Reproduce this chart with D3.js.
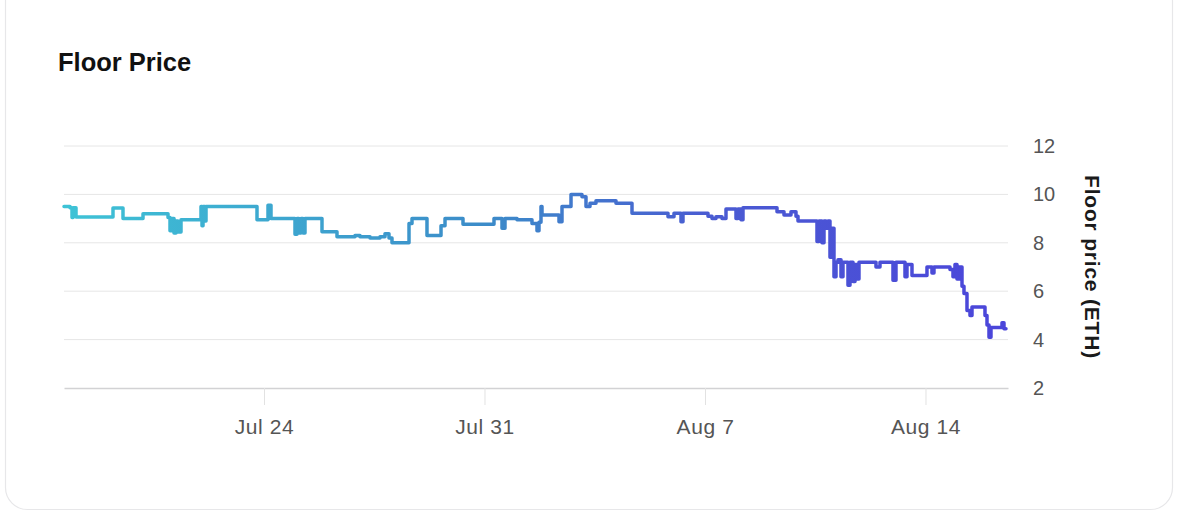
<!DOCTYPE html>
<html>
<head>
<meta charset="utf-8">
<script src="https://cdn.jsdelivr.net/npm/d3@7"></script>
<style>
  html, body { margin: 0; padding: 0; background: #ffffff; }
  svg { display: block; }
  text { font-family: "Liberation Sans", Arial, Helvetica, sans-serif; }
</style>
</head>
<body>
<svg id="chart" width="1186" height="526"></svg>
<script>
// ---- Data ----
const chartTitle = "Floor Price";
const yAxisTitle = "Floor price (ETH)";
const xDomain = ["2022-07-17T15:37", "2022-08-16T14:52"];
const yDomain = [2, 12];
const yTicks = [2, 4, 6, 8, 10, 12];
const xTickDates = ["2022-07-24", "2022-07-31", "2022-08-07", "2022-08-14"];
const xTickLabels = ["Jul 24", "Jul 31", "Aug 7", "Aug 14"];

const times = [
  "2022-07-17T15:37","2022-07-17T20:11","2022-07-17T21:43","2022-07-17T22:29","2022-07-18T00:46",
  "2022-07-19T04:57","2022-07-19T12:34","2022-07-20T03:49","2022-07-20T22:52","2022-07-21T00:23",
  "2022-07-21T01:55","2022-07-21T03:26","2022-07-21T04:57","2022-07-21T06:29","2022-07-21T08:46",
  "2022-07-22T00:00","2022-07-22T00:46","2022-07-22T01:32","2022-07-22T03:03","2022-07-22T03:49",
  "2022-07-23T18:40","2022-07-24T03:03","2022-07-24T05:20","2022-07-24T23:37","2022-07-25T01:08",
  "2022-07-25T02:40","2022-07-25T04:11","2022-07-25T05:43","2022-07-25T07:14","2022-07-25T20:11",
  "2022-07-26T07:37","2022-07-26T21:20","2022-07-27T01:08","2022-07-27T08:46","2022-07-27T16:23",
  "2022-07-27T20:11","2022-07-27T23:14","2022-07-28T01:31","2022-07-28T14:29","2022-07-28T16:46",
  "2022-07-29T04:11","2022-07-29T14:52","2022-07-29T17:55","2022-07-30T07:37","2022-07-31T07:14",
  "2022-07-31T13:20","2022-07-31T15:37","2022-08-01T00:46","2022-08-01T12:11","2022-08-01T16:00",
  "2022-08-01T17:31","2022-08-01T19:03","2022-08-01T19:49","2022-08-02T08:46","2022-08-02T11:03",
  "2022-08-02T17:55","2022-08-03T02:17","2022-08-03T05:20","2022-08-03T08:23","2022-08-03T12:57",
  "2022-08-04T04:11","2022-08-04T16:23","2022-08-05T19:49","2022-08-06T00:23","2022-08-06T05:43",
  "2022-08-06T07:14","2022-08-07T02:17","2022-08-07T05:20","2022-08-07T08:23","2022-08-07T12:57",
  "2022-08-07T16:00","2022-08-07T23:37","2022-08-08T01:08","2022-08-08T03:26","2022-08-08T04:57",
  "2022-08-09T06:52","2022-08-09T12:11","2022-08-09T17:31","2022-08-09T21:20","2022-08-09T22:52",
  "2022-08-10T13:20","2022-08-10T14:52","2022-08-10T17:08","2022-08-10T18:40","2022-08-10T20:11",
  "2022-08-10T21:43","2022-08-10T23:14","2022-08-11T00:46","2022-08-11T02:17","2022-08-11T03:49",
  "2022-08-11T05:20","2022-08-11T07:37","2022-08-11T09:08","2022-08-11T12:57","2022-08-11T14:29",
  "2022-08-11T16:46","2022-08-11T18:17","2022-08-11T19:49","2022-08-11T21:20","2022-08-12T10:17",
  "2022-08-12T13:20","2022-08-12T23:14","2022-08-13T01:31","2022-08-13T08:23","2022-08-13T09:54",
  "2022-08-13T13:43","2022-08-14T01:08","2022-08-14T04:57","2022-08-14T06:28","2022-08-14T18:40",
  "2022-08-14T20:57","2022-08-14T22:28","2022-08-15T00:00","2022-08-15T01:31","2022-08-15T03:49",
  "2022-08-15T05:20","2022-08-15T07:37","2022-08-15T09:54","2022-08-15T11:26","2022-08-15T21:20",
  "2022-08-15T22:52","2022-08-16T00:23","2022-08-16T01:54","2022-08-16T10:17","2022-08-16T11:49",
  "2022-08-16T13:20"
];
const prices = [
  9.5, 9.45, 9.05, 9.45, 9.07,
  9.44, 9.0, 9.2, 9.05, 8.5,
  9.0, 8.4, 8.9, 8.45, 8.95,
  9.5, 8.7, 9.5, 8.9, 9.5,
  8.95, 9.55, 9.0, 8.35, 9.0,
  8.4, 9.0, 8.4, 9.0, 8.46,
  8.25, 8.3, 8.25, 8.2, 8.25,
  8.37, 8.2, 8.0, 8.8, 9.0,
  8.3, 8.7, 9.0, 8.77, 9.0,
  8.6, 9.0, 8.95, 8.8, 8.5,
  8.85, 9.5, 9.15, 8.87, 9.5,
  10.0, 9.9, 9.5, 9.63, 9.74,
  9.63, 9.22, 9.08, 9.22, 8.87,
  9.22, 9.1, 9.0, 9.08, 9.0,
  9.4, 9.0, 9.4, 8.95, 9.45,
  9.28, 9.15, 9.28, 9.1, 8.9,
  8.05, 8.9, 8.0, 8.9, 8.6,
  8.9, 7.4, 8.6, 6.6, 7.2,
  7.3, 6.6, 7.2, 6.25, 7.2,
  6.4, 7.1, 6.5, 7.2, 7.0,
  7.2, 6.45, 7.2, 6.6, 7.1,
  6.65, 7.0, 6.75, 7.0, 6.9,
  6.6, 7.1, 6.5, 7.0, 6.2,
  5.9, 5.2, 5.0, 5.35, 5.0,
  4.6, 4.1, 4.5, 4.7, 4.45,
  4.45
];

// ---- Build ----
const parse = d3.isoParse;
const data = times.map((t, i) => ({ t: parse(t), v: prices[i] }));

const svg = d3.select("#chart");
const plot = { left: 64, right: 1008, top: 146, bottom: 388 };

// card
svg.append("rect")
  .attr("x", 5.5).attr("y", -20.5)
  .attr("width", 1167).attr("height", 530)
  .attr("rx", 22).attr("ry", 22)
  .attr("fill", "#ffffff")
  .attr("stroke", "#e7e7e9").attr("stroke-width", 1.2);

svg.append("text")
  .attr("x", 58).attr("y", 71)
  .attr("font-size", 25.5).attr("font-weight", 700)
  .attr("fill", "#111").text(chartTitle);

const x = d3.scaleTime()
  .domain(xDomain.map(parse))
  .range([plot.left, plot.right]);
const y = d3.scaleLinear()
  .domain(yDomain)
  .range([plot.bottom, plot.top]);

// grid lines
svg.append("g").selectAll("line")
  .data(yTicks.filter(d => d !== yDomain[0]))
  .join("line")
  .attr("x1", plot.left).attr("x2", plot.right)
  .attr("y1", d => y(d)).attr("y2", d => y(d))
  .attr("stroke", "#e6e6e6").attr("stroke-width", 1);

// x axis
const xAxis = d3.axisBottom(x)
  .tickValues(xTickDates.map(parse))
  .tickFormat((d, i) => xTickLabels[i])
  .tickSize(17).tickSizeOuter(0).tickPadding(14);
const gx = svg.append("g")
  .attr("transform", `translate(0,${plot.bottom})`)
  .call(xAxis);
gx.select(".domain").attr("stroke", "#d2d2d4").attr("stroke-width", 1.6);
gx.selectAll(".tick line").attr("stroke", "#e2e2e2");
gx.selectAll(".tick text")
  .attr("font-size", 21).attr("fill", "#555")
  .attr("letter-spacing", 0.6)
  .attr("font-family", "'Liberation Sans', Arial, sans-serif");

// y axis (right)
const yAxis = d3.axisRight(y)
  .tickValues(yTicks)
  .tickSize(0).tickPadding(25);
const gy = svg.append("g")
  .attr("transform", `translate(${plot.right},0)`)
  .call(yAxis);
gy.select(".domain").remove();
gy.selectAll(".tick text")
  .attr("font-size", 20).attr("fill", "#555")
  .attr("font-family", "'Liberation Sans', Arial, sans-serif");

svg.append("text")
  .attr("transform", `translate(1085,${(plot.top + plot.bottom) / 2}) rotate(90)`)
  .attr("text-anchor", "middle")
  .attr("font-size", 21).attr("font-weight", 700)
  .attr("letter-spacing", 0.8)
  .attr("fill", "#1a1a1a")
  .text(yAxisTitle);

// gradient
const defs = svg.append("defs");
const grad = defs.append("linearGradient")
  .attr("id", "lineGrad")
  .attr("gradientUnits", "userSpaceOnUse")
  .attr("x1", plot.left).attr("x2", plot.right)
  .attr("y1", 0).attr("y2", 0);
grad.append("stop").attr("offset", "0%").attr("stop-color", "#3ec3d6");
grad.append("stop").attr("offset", "45%").attr("stop-color", "#3c8bc9");
grad.append("stop").attr("offset", "68%").attr("stop-color", "#4a5cd2");
grad.append("stop").attr("offset", "100%").attr("stop-color", "#4b45da");

const line = d3.line()
  .x(d => x(d.t))
  .y(d => y(d.v))
  .curve(d3.curveStepAfter);

svg.append("path")
  .datum(data)
  .attr("d", line)
  .attr("fill", "none")
  .attr("stroke", "url(#lineGrad)")
  .attr("stroke-width", 3.5)
  .attr("stroke-linejoin", "round")
  .attr("stroke-linecap", "round");
</script>
</body>
</html>
